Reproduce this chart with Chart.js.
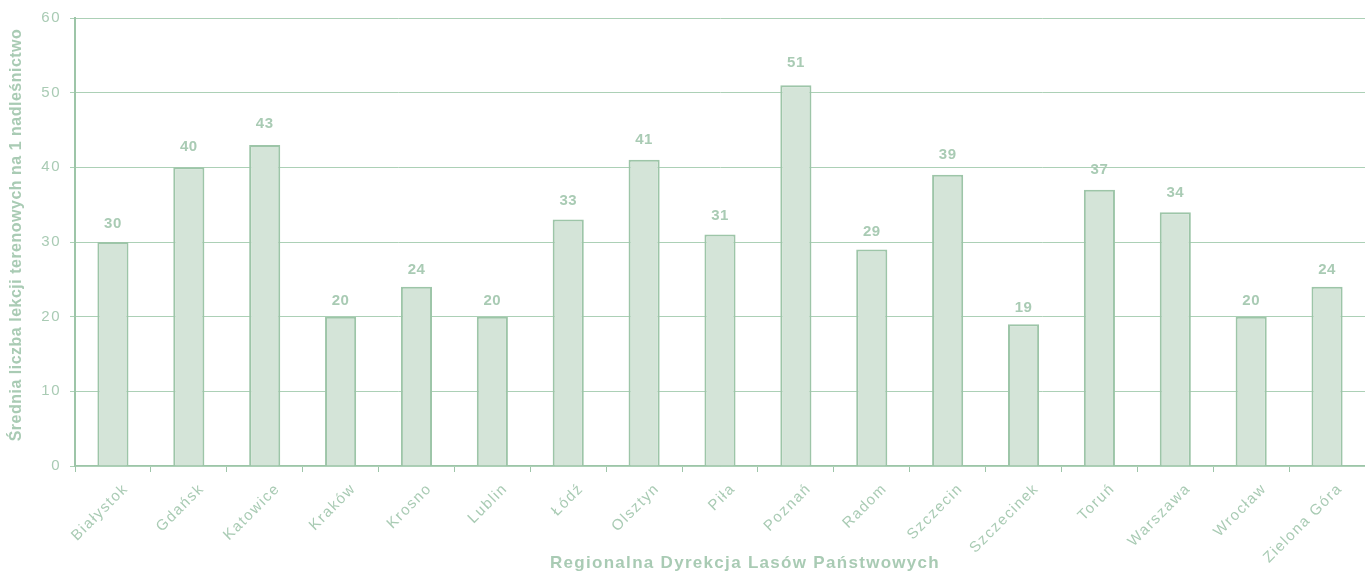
<!DOCTYPE html>
<html>
<head>
<meta charset="utf-8">
<script src="https://cdn.jsdelivr.net/npm/chart.js@4"></script>
<style>
  html, body { margin: 0; padding: 0; background: #fff; }
  #wrap { width: 1365px; height: 572px; }
</style>
</head>
<body>
<div id="wrap"><canvas id="myChart"></canvas></div>
<script>
// categories (RDLP) and average values
const regions = ['Białystok', 'Gdańsk', 'Katowice', 'Kraków', 'Krosno', 'Lublin', 'Łódź', 'Olsztyn', 'Piła',
  'Poznań', 'Radom', 'Szczecin', 'Szczecinek', 'Toruń', 'Warszawa', 'Wrocław', 'Zielona Góra'];
const lessons = [30, 40, 43, 20, 24, 20, 33, 41, 31, 51, 29, 39, 19, 37, 34, 20, 24];
const yTitle = 'Średnia liczba lekcji terenowych na 1 nadleśnictwo';
const xTitle = 'Regionalna Dyrekcja Lasów Państwowych';

const textColor = '#a9cbb4';
const lineColor = '#9dc5a8';
const fontFamily = '"Liberation Sans", Arial, sans-serif';

// value labels above bars + both axis titles
const annotate = {
  id: 'annotate',
  afterDatasetsDraw(chart) {
    const ctx = chart.ctx;
    const meta = chart.getDatasetMeta(0);
    ctx.save();
    ctx.letterSpacing = '0.5px';
    ctx.font = 'bold 15px ' + fontFamily;
    ctx.fillStyle = textColor;
    ctx.textAlign = 'center';
    ctx.textBaseline = 'middle';
    meta.data.forEach((bar, i) => {
      ctx.fillText(lessons[i], bar.x, bar.y - (12 + lessons[i] * 0.2));
    });
    ctx.restore();
  },
  afterDraw(chart) {
    const ctx = chart.ctx;
    const area = chart.chartArea;
    ctx.save();
    ctx.fillStyle = textColor;
    ctx.textAlign = 'center';
    ctx.textBaseline = 'middle';
    ctx.letterSpacing = '1.3px';
    ctx.font = 'bold 17px ' + fontFamily;
    ctx.fillText(xTitle, 745, 563);
    ctx.translate(17, (area.top + area.bottom) / 2 - 7);
    ctx.rotate(-Math.PI / 2);
    ctx.letterSpacing = '0.5px';
    ctx.font = 'bold 16px ' + fontFamily;
    ctx.fillText(yTitle, 0, 0);
    ctx.restore();
  }
};

// letter spaced tick labels like the original
const spacedTicks = {
  id: 'spacedTicks',
  beforeLayout(chart) {
    [chart.scales.x, chart.scales.y].forEach(s => {
      if (s && !s._spaced) {
        const proto = Object.getPrototypeOf(s).draw;
        s.draw = function (area) {
          const ctx = this.ctx;
          ctx.save();
          ctx.letterSpacing = '1.5px';
          proto.call(this, area);
          ctx.restore();
        };
        s._spaced = true;
      }
    });
  }
};

new Chart(document.getElementById('myChart'), {
  type: 'bar',
  data: {
    labels: regions,
    datasets: [{
      data: lessons,
      backgroundColor: '#d4e4d8',
      borderColor: lineColor,
      borderWidth: 2,
      barPercentage: 0.41,
      categoryPercentage: 1
    }]
  },
  options: {
    responsive: true,
    maintainAspectRatio: false,
    animation: false,
    layout: { padding: { top: 18, right: -4, left: 0, bottom: 0 } },
    plugins: {
      legend: { display: false },
      tooltip: { enabled: false }
    },
    scales: {
      x: {
        afterFit(scale) { scale.height = 106; },
        grid: { display: true, drawOnChartArea: false, color: lineColor, tickLength: 6, offset: true },
        border: { color: lineColor, width: 2 },
        ticks: {
          color: textColor,
          font: { family: fontFamily, size: 15 },
          maxRotation: 45, minRotation: 45, padding: 8, labelOffset: 13
        }
      },
      y: {
        min: 0, max: 60,
        afterFit(scale) { scale.width = 75; },
        ticks: {
          stepSize: 10, color: textColor, padding: 9,
          font: { family: fontFamily, size: 15 }
        },
        grid: { color: '#acd0b6', tickLength: 5 },
        border: { color: lineColor, width: 2 }
      }
    }
  },
  plugins: [spacedTicks, annotate]
});
</script>
</body>
</html>
